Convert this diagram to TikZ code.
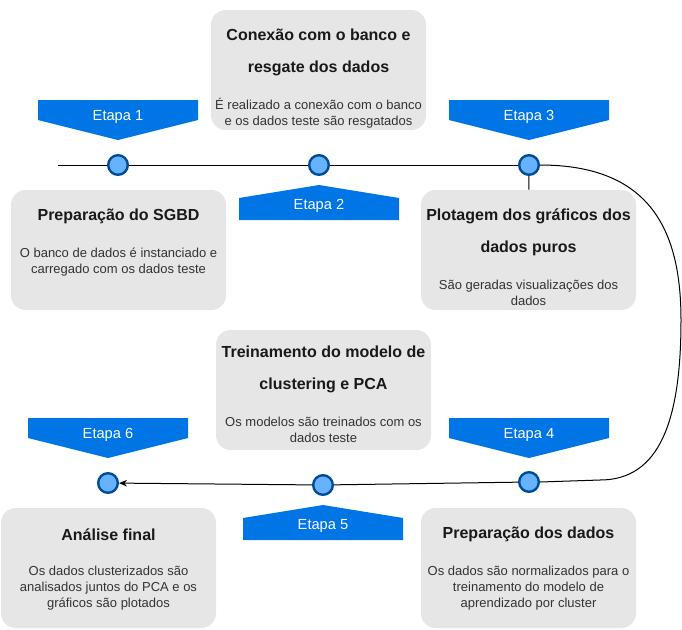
\documentclass[tikz,border=0pt]{standalone}
\usepackage{fontspec}
\setmainfont{Liberation Sans}
\usetikzlibrary{arrows.meta}
\definecolor{tagblue}{HTML}{0075E6}
\definecolor{dotfill}{HTML}{66B2FF}
\definecolor{dotring}{HTML}{004C99}
\definecolor{cardgray}{HTML}{E6E6E6}
\definecolor{desctext}{HTML}{333333}

\begin{document}
\begin{tikzpicture}[x=0.75pt, y=-0.75pt,
    stage/.style ={circle, draw=dotring, fill=dotfill, line width=1.8pt, inner sep=0pt, minimum size=14.7pt},
    card/.style ={rounded corners=11pt, fill=cardgray, inner sep=0pt, minimum width=161.25pt, minimum height=90pt},
    cardtitle/.style ={font=\bfseries\fontsize{12}{24}\selectfont, align=center, text=black!90},
    carddesc/.style ={font=\fontsize{9.75}{12}\selectfont, align=center, text=desctext},
    tag/.style ={text=white, font=\fontsize{11}{13}\selectfont, inner sep=0pt},
    link/.style ={line width=0.75pt}]
   \useasboundingbox (0,0) rectangle (682,629);

   % cards
   \node[card] (K1) at (118.5,250) {};
   \node[card] (K2) at (318.5,70)  {};
   \node[card] (K3) at (528.5,250) {};
   \node[card] (K4) at (528.5,568) {};
   \node[card] (K5) at (323.5,390) {};
   \node[card] (K6) at (108.5,568) {};

   \node[cardtitle] (T1) at (118.5,216.5) {Preparação do SGBD};
   \node[carddesc]  (D1) at (118.5,262) {O banco de dados é instanciado e\\carregado com os dados teste};
   \node[cardtitle] (T2) at (318.5,52.5) {Conexão com o banco e\\resgate dos dados};
   \node[carddesc]  (D2) at (318.5,113) {É realizado a conexão com o banco\\e os dados teste são resgatados};
   \node[cardtitle] (T3) at (528.5,232.5) {Plotagem dos gráficos dos\\dados puros};
   \node[carddesc]  (D3) at (528.5,293) {São geradas visualizações dos\\dados};
   \node[cardtitle] (T4) at (528.5,534.5) {Preparação dos dados};
   \node[carddesc]  (D4) at (528.5,588) {Os dados são normalizados para o\\treinamento do modelo de\\aprendizado por cluster};
   \node[cardtitle] (T5) at (323.5,369) {Treinamento do modelo de\\clustering e PCA};
   \node[carddesc]  (D5) at (323.5,430) {Os modelos são treinados com os\\dados teste};
   \node[cardtitle] (T6) at (108.5,534.5) {Análise final};
   \node[carddesc]  (D6) at (108.5,588) {Os dados clusterizados são\\analisados juntos do PCA e os\\gráficos são plotados};

   % tags
   \fill[tagblue] (38,100) -- (198,100) -- (198,120) -- (118,140) -- (38,120) -- cycle;
   \fill[tagblue] (449,100) -- (609,100) -- (609,120) -- (529,140) -- (449,120) -- cycle;
   \fill[tagblue] (28,418) -- (188,418) -- (188,438) -- (108,458) -- (28,438) -- cycle;
   \fill[tagblue] (449,418) -- (609,418) -- (609,438) -- (529,458) -- (449,438) -- cycle;
   \fill[tagblue] (239,220) -- (239,198) -- (319,185) -- (399,198) -- (399,220) -- cycle;
   \fill[tagblue] (243,540) -- (243,518) -- (323,505) -- (403,518) -- (403,540) -- cycle;
   \node[tag] (E1) at (118,117) {Etapa 1};
   \node[tag] (E2) at (319,206) {Etapa 2};
   \node[tag] (E3) at (529,117) {Etapa 3};
   \node[tag] (E4) at (529,435) {Etapa 4};
   \node[tag] (E5) at (323,526) {Etapa 5};
   \node[tag] (E6) at (108,435) {Etapa 6};

   % timeline
   \coordinate (start) at (58,165);
   \node[stage] (C1) at (118,165) {};
   \node[stage] (C2) at (319,165) {};
   \node[stage] (C3) at (529,165) {};
   \node[stage] (C4) at (529,482) {};
   \node[stage] (C5) at (323,485) {};
   \node[stage] (C6) at (108,483) {};
   \draw[link] (start) -- (C1);
   \draw[link] (C1) -- (C2);
   \draw[link] (C2) -- (C3);
   \draw[link] (C3) -- (K3);
   \draw[link] (C3.east) .. controls (650,165) and (681,230) .. (681,320)
                         .. controls (681,420) and (660,480) .. (600,480) -- (C4.east);
   \draw[link] (C4) -- (C5);
   \draw[link, -{Stealth[length=6pt,width=5pt]}] (C5) -- (C6);
 \end{tikzpicture}
\end{document}
